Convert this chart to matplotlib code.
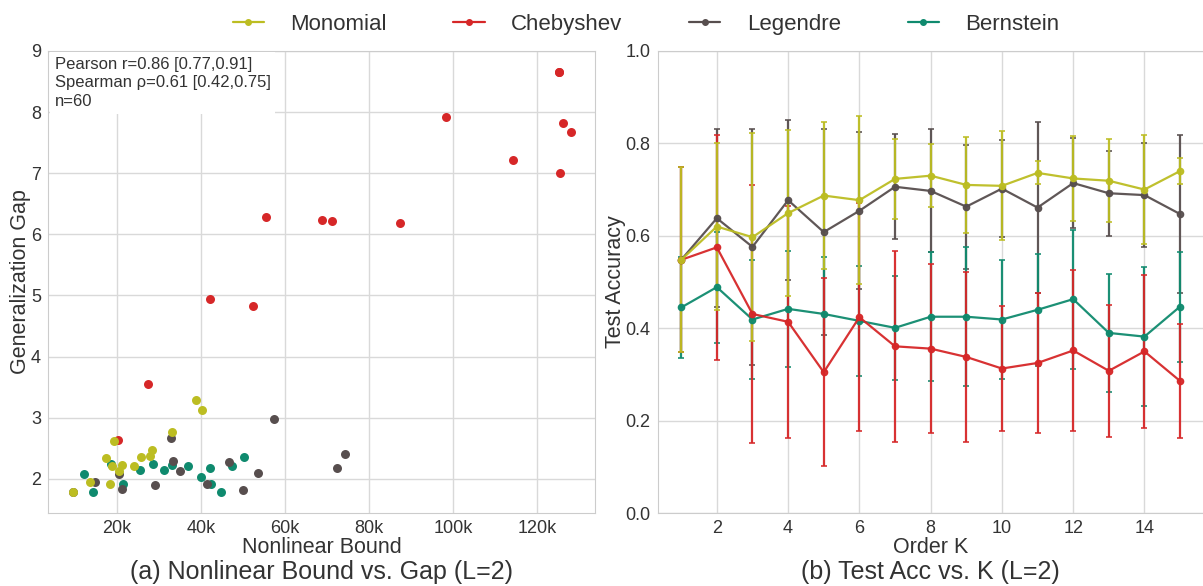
import numpy as np
import matplotlib
matplotlib.use("Agg")
from matplotlib import pyplot as plt
from matplotlib.ticker import FuncFormatter
import seaborn as sns

sns.set_style("whitegrid")
plt.rcParams['font.family'] = ['Liberation Sans', 'DejaVu Sans']
plt.rcParams['text.color'] = '#333333'
plt.rcParams['axes.labelcolor'] = '#333333'
plt.rcParams['xtick.color'] = '#333333'
plt.rcParams['ytick.color'] = '#333333'

names = ["Monomial", "Chebyshev", "Legendre", "Bernstein"]
colors = {"Monomial": "#bcbd22", "Chebyshev": "#d62728",
          "Legendre": "#574e4e", "Bernstein": "#0f8a6e"}

# (a) nonlinear bound (in thousands) vs generalization gap
bound_mono = [9.5, 13.5, 18.4, 17.3, 18.9, 19.4, 20.5, 21.2, 24.0, 25.8, 27.8, 28.3, 33.0, 38.8, 40.2]
gap_mono = [1.79, 1.95, 1.91, 2.34, 2.21, 2.62, 2.13, 2.22, 2.21, 2.35, 2.38, 2.47, 2.77, 3.29, 3.12]

bound_cheb = [42.1, 52.3, 27.5, 20.2, 125.3, 98.3, 126.3, 128.0, 114.4, 125.4, 68.9, 71.2, 87.3, 55.5, 125.3]
gap_cheb = [4.94, 4.83, 3.55, 2.64, 8.66, 7.92, 7.82, 7.68, 7.22, 7.00, 6.24, 6.21, 6.19, 6.28, 8.66]

bound_leg = [9.6, 14.8, 20.4, 21.1, 29.0, 32.9, 33.3, 35.1, 41.4, 46.6, 50.0, 53.7, 57.4, 74.2, 72.5]
gap_leg = [1.79, 1.95, 2.08, 1.84, 1.90, 2.67, 2.29, 2.13, 1.92, 2.28, 1.81, 2.10, 2.98, 2.40, 2.17]

bound_bern = [12.1, 14.2, 18.6, 21.4, 25.5, 28.7, 31.3, 33.1, 36.9, 39.9, 42.1, 42.3, 44.8, 47.4, 50.3]
gap_bern = [2.07, 1.78, 2.24, 1.91, 2.15, 2.24, 2.14, 2.23, 2.21, 2.03, 2.17, 1.91, 1.78, 2.21, 2.35]

stats_text = "Pearson r=0.86 [0.77,0.91]\nSpearman \u03c1=0.61 [0.42,0.75]\nn=60"

# (b) test accuracy vs order K
K = list(range(1, 16))
acc_mono = [0.548, 0.620, 0.597, 0.649, 0.687, 0.677, 0.723, 0.730, 0.710, 0.708, 0.736, 0.724, 0.719, 0.700, 0.740]
err_mono = [0.200, 0.180, 0.225, 0.180, 0.158, 0.182, 0.086, 0.068, 0.104, 0.118, 0.025, 0.092, 0.090, 0.117, 0.029]

acc_cheb = [0.548, 0.575, 0.431, 0.414, 0.305, 0.424, 0.361, 0.356, 0.338, 0.313, 0.325, 0.352, 0.308, 0.350, 0.286]
err_cheb = [0.200, 0.244, 0.278, 0.251, 0.203, 0.246, 0.206, 0.182, 0.184, 0.135, 0.151, 0.174, 0.142, 0.166, 0.123]

acc_leg = [0.548, 0.638, 0.576, 0.677, 0.608, 0.654, 0.706, 0.697, 0.663, 0.702, 0.661, 0.714, 0.692, 0.688, 0.647]
err_leg = [0.200, 0.192, 0.256, 0.173, 0.222, 0.170, 0.114, 0.133, 0.134, 0.105, 0.184, 0.098, 0.092, 0.112, 0.170]

acc_bern = [0.445, 0.489, 0.419, 0.442, 0.431, 0.416, 0.401, 0.425, 0.425, 0.419, 0.440, 0.463, 0.390, 0.382, 0.447]
err_bern = [0.110, 0.120, 0.129, 0.125, 0.124, 0.119, 0.113, 0.140, 0.150, 0.129, 0.121, 0.150, 0.128, 0.151, 0.119]

fig = plt.figure(figsize=(12.03, 5.86), dpi=100)
ax1 = fig.add_axes([0.0399, 0.1246, 0.4547, 0.7884])
ax2 = fig.add_axes([0.5467, 0.1241, 0.4538, 0.7892])

for ax in (ax1, ax2):
    for s in ax.spines.values():
        s.set_color('#cccccc')
    ax.grid(color='#d9d9d9', linewidth=1.0)
    ax.tick_params(labelsize=13, length=0, pad=5)

# scatter, drawing order picked so the yellow points end up on top
scatter = [("Chebyshev", bound_cheb, gap_cheb), ("Bernstein", bound_bern, gap_bern),
           ("Legendre", bound_leg, gap_leg), ("Monomial", bound_mono, gap_mono)]
for name, bx, gy in scatter:
    ax1.scatter(bx, gy, s=42, color=colors[name], linewidths=0, zorder=3)

ax1.set_xlim(3.6, 133.8)
ax1.set_ylim(1.44, 9.0)
ax1.set_xticks([20, 40, 60, 80, 100, 120])
ax1.xaxis.set_major_formatter(FuncFormatter(lambda v, p: "%dk" % v))
ax1.set_xlabel("Nonlinear Bound", fontsize=15.5, labelpad=0)
ax1.set_ylabel("Generalization Gap", fontsize=15.5, labelpad=0)
ax1.text(0.012, 0.988, stats_text, transform=ax1.transAxes, fontsize=12, va='top', ha='left',
         linespacing=1.3, zorder=5,
         bbox=dict(boxstyle='square,pad=0.3', fc='white', ec='none'))

# error bar lines
lines = [("Legendre", acc_leg, err_leg), ("Bernstein", acc_bern, err_bern),
         ("Chebyshev", acc_cheb, err_cheb), ("Monomial", acc_mono, err_mono)]
for name, acc, err in lines:
    ax2.errorbar(K, acc, yerr=err, color=colors[name], marker='o', markersize=4.5,
                 linewidth=1.6, elinewidth=1.6, capsize=2.5, capthick=1.2, alpha=0.95)

ax2.set_xlim(0.34, 15.66)
ax2.set_ylim(0.0, 1.0)
ax2.set_xticks([2, 4, 6, 8, 10, 12, 14])
ax2.set_yticks([0.0, 0.2, 0.4, 0.6, 0.8, 1.0])
ax2.set_xlabel("Order K", fontsize=15.5, labelpad=0)
ax2.set_ylabel("Test Accuracy", fontsize=15.5, labelpad=0)

# subtitles under each panel
fig.text(0.2673, 0.004, "(a) Nonlinear Bound vs. Gap (L=2)", fontsize=18, ha='center', va='bottom')
fig.text(0.7736, 0.004, "(b) Test Acc vs. K (L=2)", fontsize=18, ha='center', va='bottom')

leg_handles = [plt.Line2D([], [], color=colors[n], marker='o', markersize=4, linewidth=1.6) for n in names]
fig.legend(leg_handles, names, loc='upper center', bbox_to_anchor=(0.537, 1.01), ncol=4,
           frameon=False, fontsize=16, handlelength=1.4, handletextpad=1.2, columnspacing=3.0)

fig.savefig("out.png", dpi=100)
